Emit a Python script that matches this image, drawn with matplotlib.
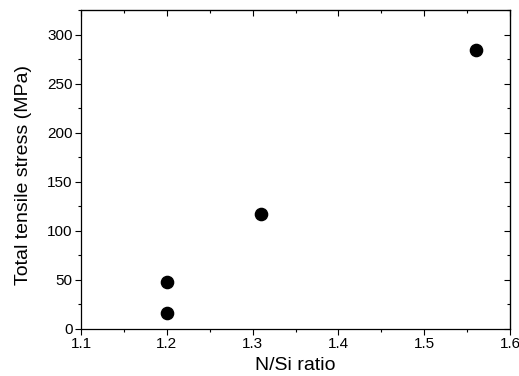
import matplotlib
matplotlib.use("Agg")
import matplotlib.pyplot as plt
from matplotlib.ticker import MultipleLocator, FormatStrFormatter

# values
ratio = [1.2, 1.2, 1.31, 1.56]
stress = [16, 48, 117, 284]

plt.rcParams['font.family'] = ['Liberation Sans', 'DejaVu Sans']

fig = plt.figure(figsize=(5.19, 3.76), dpi=100)
ax = fig.add_axes([81 / 519, 1 - 329 / 376, (510 - 81) / 519, (329 - 10) / 376])

ax.plot(ratio, stress, 'o', color='black', markersize=8.8, linestyle='none')

ax.set_xlim(1.1, 1.6)
ax.set_ylim(0, 325)
ax.xaxis.set_major_locator(MultipleLocator(0.1))
ax.xaxis.set_minor_locator(MultipleLocator(0.05))
ax.yaxis.set_major_locator(MultipleLocator(50))
ax.yaxis.set_minor_locator(MultipleLocator(25))
ax.xaxis.set_major_formatter(FormatStrFormatter('%.1f'))

ax.tick_params(which='both', direction='out', labelsize=11, width=0.8, pad=2)
ax.tick_params(which='major', length=4)
ax.tick_params(which='minor', length=2.5)

# mirrored ticks on top and right, pointing in
sec_x = ax.secondary_xaxis('top')
sec_x.xaxis.set_major_locator(MultipleLocator(0.1))
sec_x.xaxis.set_minor_locator(MultipleLocator(0.05))
sec_x.tick_params(which='both', direction='in', labeltop=False, width=0.8)
sec_x.tick_params(which='major', length=4)
sec_x.tick_params(which='minor', length=2.5)
sec_y = ax.secondary_yaxis('right')
sec_y.yaxis.set_major_locator(MultipleLocator(50))
sec_y.yaxis.set_minor_locator(MultipleLocator(25))
sec_y.tick_params(which='both', direction='in', labelright=False, width=0.8)
sec_y.tick_params(which='major', length=4)
sec_y.tick_params(which='minor', length=2.5)

for s in ax.spines.values():
    s.set_linewidth(0.9)

ax.set_xlabel('N/Si ratio', fontsize=14, labelpad=4)
ax.set_ylabel('Total tensile stress (MPa)', fontsize=14)
ax.yaxis.set_label_coords(-0.114, 0.483)

fig.savefig('out.png', dpi=100)
